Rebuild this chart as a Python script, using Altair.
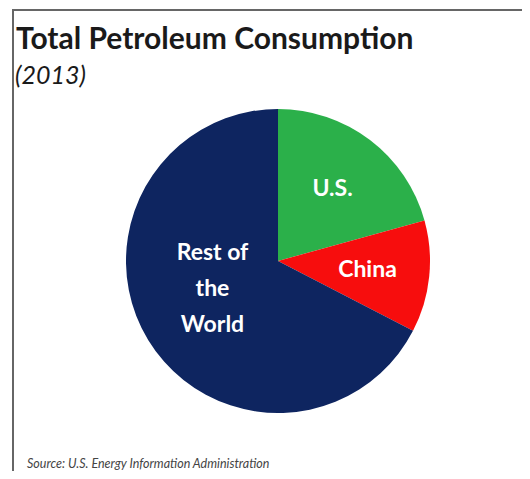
import altair as alt
import pandas as pd

categories = ["U.S.", "China", "Rest of the World"]
labels = ["U.S.", "China", "Rest of\nthe\nWorld"]
shares = [20.7, 11.9, 67.4]
colors = ["#2BB04A", "#F70D0D", "#0E2560"]

title_text = "Total Petroleum Consumption"
subtitle_text = "(2013)"
source_text = "Source: U.S. Energy Information Administration"

df = pd.DataFrame({
    "category": categories,
    "label": labels,
    "share": shares,
    "idx": list(range(len(categories))),
})

W, H = 514, 463
CX, CY = 270, 252

pie = alt.Chart(df).mark_arc(radius=152, stroke=None).encode(
    theta=alt.Theta("share:Q", stack=True),
    order=alt.Order("idx:Q"),
    color=alt.Color("category:N", scale=alt.Scale(domain=categories, range=colors), legend=None),
    x=alt.value(CX), y=alt.value(CY),
)

text_base = alt.Chart(df).transform_window(
    cum="sum(share)", sort=[alt.SortField("idx")], frame=[None, 0]
).transform_calculate(
    mid="datum.cum - datum.share / 2"
)

lab_small = text_base.transform_filter(alt.datum.idx < 2).mark_text(
    radius=90, font="Lato", fontWeight="bold", fontSize=23,
    color="white", align="center", baseline="middle").encode(
    theta=alt.Theta("mid:Q", stack=None),
    text="label:N", x=alt.value(CX), y=alt.value(CY),
)

lab_rest = text_base.transform_filter(alt.datum.idx == 2).mark_text(
    radius=72, dx=-4, dy=-45, font="Lato", fontWeight="bold", fontSize=23,
    color="white", align="center", baseline="middle",
    lineBreak="\n", lineHeight=36).encode(
    theta=alt.Theta("mid:Q", stack=None),
    text="label:N", x=alt.value(CX), y=alt.value(CY),
)

ann = pd.DataFrame({"t": [title_text]})
title = alt.Chart(ann).mark_text(font="Lato", fontWeight="bold", fontSize=30, color="#1a1a1a",
                                 align="left", baseline="alphabetic").encode(
    text=alt.value(title_text), x=alt.value(8), y=alt.value(40))
subtitle = alt.Chart(ann).mark_text(font="Lato", fontStyle="italic", fontSize=25, color="#1a1a1a",
                                    align="left", baseline="alphabetic").encode(
    text=alt.value(subtitle_text), x=alt.value(7), y=alt.value(75))
source = alt.Chart(ann).mark_text(font="Lato", fontStyle="italic", fontSize=12.5, color="#444444",
                                  align="left", baseline="alphabetic").encode(
    text=alt.value(source_text), x=alt.value(19), y=alt.value(459))

top_rule = alt.Chart(ann).mark_rule(color="#666666", strokeWidth=2).encode(
    x=alt.value(4), x2=alt.value(W), y=alt.value(1))
left_rule = alt.Chart(ann).mark_rule(color="#666666", strokeWidth=2).encode(
    x=alt.value(5), y=alt.value(0), y2=alt.value(H))

chart = alt.layer(top_rule, left_rule, pie, lab_small, lab_rest, title, subtitle, source).properties(
    width=W, height=H,
    autosize=alt.AutoSizeParams(type="fit", contains="padding"),
    padding=0,
).configure_view(stroke=None)

chart.save("out.html", embed_options={"renderer": "svg", "actions": False})
